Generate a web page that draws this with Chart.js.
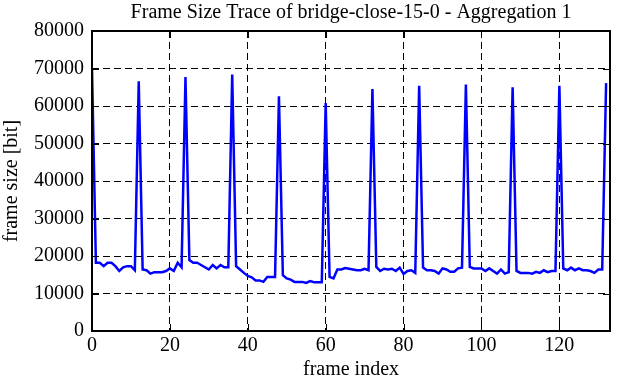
<!DOCTYPE html>
<html>
<head>
<meta charset="utf-8">
<script src="https://cdn.jsdelivr.net/npm/chart.js@4.4.1/dist/chart.umd.min.js"></script>
<style>
  html, body { margin: 0; padding: 0; background: #fff; }
  #wrap { width: 622px; height: 382px; position: relative; }
</style>
</head>
<body>
<div id="wrap"><canvas id="c" width="622" height="382"></canvas></div>
<script>
const chartTitle = "Frame Size Trace of bridge-close-15-0 - Aggregation 1";
const xAxisTitle = "frame index";
const yAxisTitle = "frame size [bit]";
const xTicks = [0, 20, 40, 60, 80, 100, 120];
const yTicks = [0, 10000, 20000, 30000, 40000, 50000, 60000, 70000, 80000];
const xMax = 133;
const yMax = 80000;

// frame size per frame index 0..132
const frameSize = [
  70000, 18200, 18200, 17300, 18200, 18200, 17300, 16000, 17000, 17300,
  17300, 16200, 66600, 16400, 16200, 15300, 15700, 15700, 15700, 16000,
  16700, 16000, 18200, 17000, 67700, 18900, 18200, 18200, 17600, 17000,
  16400, 17600, 16700, 17600, 17000, 17000, 68400, 17300, 16400, 15500,
  14700, 14300, 13500, 13500, 13100, 14400, 14400, 14400, 62600, 14900,
  14000, 13700, 13100, 13100, 13100, 12800, 13300, 13000, 13000, 13000,
  60800, 14400, 14000, 16400, 16400, 16800, 16600, 16400, 16200, 16200,
  16600, 16200, 64500, 17100, 16000, 16600, 16400, 16600, 16000, 16900,
  15200, 16000, 16200, 15500, 65400, 16900, 16200, 16200, 16000, 15300,
  16700, 16400, 15800, 15800, 16700, 16900, 65700, 17100, 16700, 16700,
  16700, 16000, 16700, 16000, 15300, 16400, 15300, 15700, 65000, 16000,
  15500, 15500, 15500, 15300, 15800, 15500, 16200, 15700, 16000, 16000,
  65400, 16700, 16200, 16900, 16200, 16700, 16200, 16200, 16000, 15500,
  16400, 16400, 66100
];

const points = frameSize.map((v, i) => ({ x: i, y: v }));
const FONT = "'Liberation Serif', 'DejaVu Serif', serif";

const framePlugin = {
  id: 'frame',
  afterDraw(chart) {
    const { ctx, chartArea: a, scales } = chart;
    const tl = 7;
    ctx.save();
    ctx.strokeStyle = '#000';
    ctx.lineWidth = 1;
    ctx.beginPath();
    xTicks.forEach(v => {
      const px = Math.round(scales.x.getPixelForValue(v)) + 0.5;
      ctx.moveTo(px, a.bottom); ctx.lineTo(px, a.bottom - tl);
      ctx.moveTo(px, a.top); ctx.lineTo(px, a.top + tl);
    });
    yTicks.forEach(v => {
      const py = Math.round(scales.y.getPixelForValue(v)) + 0.5;
      ctx.moveTo(a.left, py); ctx.lineTo(a.left + tl, py);
      ctx.moveTo(a.right, py); ctx.lineTo(a.right - tl, py);
    });
    ctx.stroke();
    ctx.lineWidth = 2;
    ctx.strokeRect(a.left, a.top, a.right - a.left, a.bottom - a.top);
    ctx.restore();
  }
};

new Chart(document.getElementById('c'), {
  type: 'line',
  data: {
    datasets: [{
      data: points,
      borderColor: '#0000ff',
      borderWidth: 2.5,
      pointRadius: 0,
      tension: 0,
      fill: false
    }]
  },
  options: {
    responsive: false,
    animation: false,
    layout: { padding: { left: 0, right: 12, top: 0, bottom: 0 } },
    plugins: {
      legend: { display: false },
      tooltip: { enabled: false },
      title: {
        display: true,
        fullSize: false,
        text: chartTitle,
        color: '#000',
        font: { family: FONT, size: 20, weight: 'normal' },
        padding: { top: 1, bottom: 6 }
      }
    },
    scales: {
      x: {
        type: 'linear',
        min: 0,
        max: xMax,
        afterBuildTicks: s => { s.ticks = xTicks.map(v => ({ value: v })); },
        afterFit: s => { s.height = 51; },
        ticks: {
          color: '#000',
          font: { family: FONT, size: 20 },
          padding: 3,
          maxRotation: 0,
          autoSkip: false,
          callback: v => String(v)
        },
        grid: { color: '#000', lineWidth: 1, drawTicks: false },
        border: { display: false, dash: [7, 4] },
        title: {
          display: true,
          text: xAxisTitle,
          color: '#000',
          font: { family: FONT, size: 20 },
          padding: { top: 0, bottom: 0 }
        }
      },
      y: {
        min: 0,
        max: yMax,
        afterBuildTicks: s => { s.ticks = yTicks.map(v => ({ value: v })); },
        afterFit: s => { s.width = 92; },
        ticks: {
          color: '#000',
          font: { family: FONT, size: 20 },
          padding: 8,
          autoSkip: false,
          callback: v => String(v)
        },
        grid: { color: '#000', lineWidth: 1, drawTicks: false },
        border: { display: false, dash: [7, 4] },
        title: {
          display: true,
          text: yAxisTitle,
          color: '#000',
          font: { family: FONT, size: 20 },
          padding: { top: 0, bottom: 0 }
        }
      }
    }
  },
  plugins: [framePlugin]
});
</script>
</body>
</html>
